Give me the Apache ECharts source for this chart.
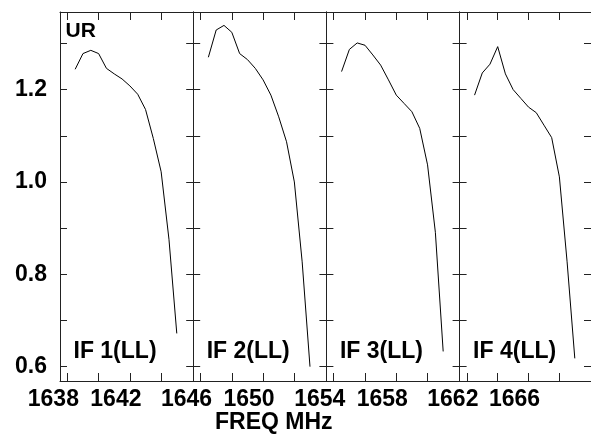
<!DOCTYPE html>
<html>
<head>
<meta charset="utf-8">
<script src="https://cdn.jsdelivr.net/npm/echarts@6/dist/echarts.min.js"></script>
<style>html,body{margin:0;padding:0;background:#fff}#c{width:591px;height:434px}</style>
</head>
<body>
<div id="c"></div>
<script>
// ---- data ----
const ifNames = ['IF 1(LL)', 'IF 2(LL)', 'IF 3(LL)', 'IF 4(LL)'];
const freq1 = [1638.5, 1639, 1639.5, 1640, 1640.5, 1641, 1641.5, 1642, 1642.5, 1643, 1643.5, 1644, 1644.5, 1645];
const freq2 = [1646.5, 1647, 1647.5, 1648, 1648.5, 1649, 1649.5, 1650, 1650.5, 1651, 1651.5, 1652, 1652.5, 1653];
const freq3 = [1654.5, 1655, 1655.5, 1656, 1656.5, 1657, 1657.5, 1658, 1658.5, 1659, 1659.5, 1660, 1660.5, 1661];
const freq4 = [1662.5, 1663, 1663.5, 1664, 1664.5, 1665, 1665.5, 1666, 1666.5, 1667, 1667.5, 1668, 1668.5, 1669];
const ur1 = [1.244, 1.278, 1.285, 1.278, 1.246, 1.234, 1.223, 1.208, 1.190, 1.157, 1.094, 1.022, 0.876, 0.672];
const ur2 = [1.270, 1.329, 1.339, 1.324, 1.278, 1.265, 1.246, 1.221, 1.188, 1.141, 1.087, 1.000, 0.827, 0.600];
const ur3 = [1.239, 1.287, 1.301, 1.296, 1.275, 1.253, 1.221, 1.188, 1.170, 1.152, 1.116, 1.037, 0.891, 0.633];
const ur4 = [1.188, 1.236, 1.255, 1.293, 1.234, 1.200, 1.181, 1.162, 1.150, 1.123, 1.096, 1.011, 0.827, 0.618];
const xTicks1 = [1638, 1640, 1642, 1644];
const xTicks2 = [1646, 1648, 1650, 1652];
const xTicks3 = [1654, 1656, 1658, 1660];
const xTicks4 = [1662, 1664, 1666, 1668];
const xLabels1 = [1638, 1642];
const xLabels2 = [1646, 1650];
const xLabels3 = [1654, 1658];
const xLabels4 = [1662, 1666];
const xMins = [1637.53, 1645.53, 1653.53, 1661.53];
const xMaxs = [1646.05, 1654.05, 1662.05, 1670.05];
const yTicks = [0.6, 0.7, 0.8, 0.9, 1.0, 1.1, 1.2, 1.3];
const yLabels = [0.6, 0.8, 1.0, 1.2];
const yMin = 0.569, yMax = 1.368;
const yTitle = 'UR';
const xTitle = 'FREQ MHz';

// ---- build ----
const freqs = [freq1, freq2, freq3, freq4];
const urs = [ur1, ur2, ur3, ur4];
const xTicks = [xTicks1, xTicks2, xTicks3, xTicks4];
const xLabels = [xLabels1, xLabels2, xLabels3, xLabels4];

const L = 60, T = 12, W = 133.2, H = 369;
const FONT = '"Liberation Sans", Arial, Helvetica, sans-serif';
const frameColor = '#222';

const grid = [], xAxis = [], yAxis = [], series = [], graphic = [];
for (let k = 0; k < 4; k++) {
  grid.push({ left: L + W * k, top: T, width: W, height: H });
  const lineStyle = { color: frameColor, width: 1 };
  xAxis.push({
    type: 'value', gridIndex: k, position: 'bottom', min: xMins[k], max: xMaxs[k],
    axisLine: { show: true, onZero: false, lineStyle },
    axisTick: { show: true, inside: true, length: 8, customValues: xTicks[k], lineStyle },
    axisLabel: { show: true, customValues: xLabels[k], formatter: v => String(Math.round(v)),
      color: '#000', fontFamily: FONT, fontWeight: 'bold', fontSize: 23, margin: 7,
      padding: [0, 28, 0, 0] },
    splitLine: { show: false }
  });
  xAxis.push({
    type: 'value', gridIndex: k, position: 'top', min: xMins[k], max: xMaxs[k],
    axisLine: { show: true, onZero: false, lineStyle },
    axisTick: { show: true, inside: true, length: 8, customValues: xTicks[k], lineStyle },
    axisLabel: { show: false },
    splitLine: { show: false }
  });
  yAxis.push({
    type: 'value', gridIndex: k, position: 'left', min: yMin, max: yMax,
    axisLine: { show: true, onZero: false, lineStyle },
    axisTick: { show: true, inside: true, length: 7, customValues: yTicks, lineStyle },
    axisLabel: { show: k === 0, customValues: yLabels, formatter: v => v.toFixed(1),
      color: '#000', fontFamily: FONT, fontWeight: 'bold', fontSize: 23, margin: 13 },
    splitLine: { show: false }
  });
  yAxis.push({
    type: 'value', gridIndex: k, position: 'right', min: yMin, max: yMax,
    axisLine: { show: true, onZero: false, lineStyle },
    axisTick: { show: true, inside: true, length: 7, customValues: yTicks, lineStyle },
    axisLabel: { show: false },
    splitLine: { show: false }
  });
  series.push({
    type: 'line', xAxisIndex: 2 * k, yAxisIndex: 2 * k,
    data: freqs[k].map((f, i) => [f, urs[k][i]]),
    symbol: 'none', lineStyle: { color: '#000', width: 1 }, silent: true, animation: false
  });
  graphic.push({
    type: 'text', left: L + W * k + 13.5, top: 340,
    style: { text: ifNames[k], fill: '#000', font: 'bold 23px ' + FONT }
  });
}
graphic.push({ type: 'text', left: 65.5, top: 21, style: { text: yTitle, fill: '#000', font: 'bold 21px ' + FONT } });
graphic.push({ type: 'text', left: 215, top: 411, style: { text: xTitle, fill: '#000', font: 'bold 23px ' + FONT } });

const chart = echarts.init(document.getElementById('c'), null, { renderer: 'canvas' });
chart.setOption({ animation: false, grid, xAxis, yAxis, series, graphic });
</script>
</body>
</html>
